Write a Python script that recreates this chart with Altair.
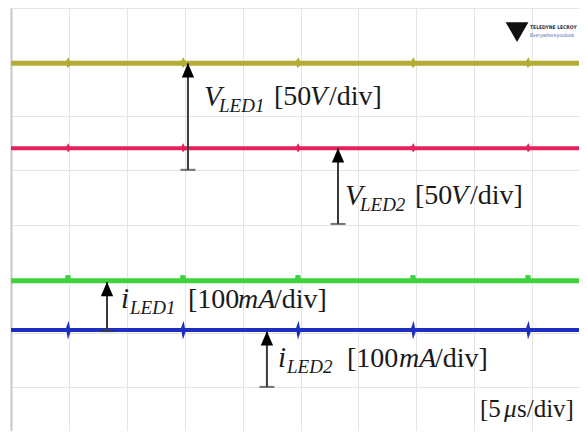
import altair as alt
import pandas as pd

# ---- data (time in µs at 5 µs/div, vertical position in screen divisions, 8 div) ----
t = [0, 4.87, 4.92, 4.97, 5.02, 14.80, 14.85, 14.90, 14.95, 24.73, 24.78, 24.83, 24.88,
     34.67, 34.72, 34.77, 34.82, 44.60, 44.65, 44.70, 44.75, 49.74]
v_led1 = [6.98, 6.98, 6.995, 6.97, 6.98, 6.98, 6.995, 6.97, 6.98, 6.98, 6.995, 6.97, 6.98,
          6.98, 6.995, 6.97, 6.98, 6.98, 6.995, 6.97, 6.98, 6.98]
v_led2 = [5.41, 5.41, 5.425, 5.40, 5.41, 5.41, 5.425, 5.40, 5.41, 5.41, 5.425, 5.40, 5.41,
          5.41, 5.425, 5.40, 5.41, 5.41, 5.425, 5.40, 5.41, 5.41]
i_led1 = [2.96, 2.96, 3.06, 2.93, 2.96, 2.96, 3.06, 2.93, 2.96, 2.96, 3.06, 2.93, 2.96,
          2.96, 3.06, 2.93, 2.96, 2.96, 3.06, 2.93, 2.96, 2.96]
i_led2 = [2.05, 2.05, 2.08, 2.02, 2.05, 2.05, 2.08, 2.02, 2.05, 2.05, 2.08, 2.02, 2.05,
          2.05, 2.08, 2.02, 2.05, 2.05, 2.08, 2.02, 2.05, 2.05]

trace_names = ["VLED1", "VLED2", "iLED1", "iLED2"]
trace_colors = ["#b3ad35", "#e2215d", "#3fd23f", "#1c2fc0"]

# arrows: time position, start (reference level) and tip (trace level)
arrow_t = [15.28, 28.24, 8.29, 22.10]
arrow_from = [5.01, 4.01, 2.03, 1.00]
arrow_to = [6.98, 5.41, 2.94, 2.03]

# label anchors (time, division) for V_LED1, V_LED2, i_LED1, i_LED2, time base
label_t = [16.67, 28.84, 9.50, 23.06, 40.50]
label_v = [6.19, 4.36, 2.46, 1.37, 0.44]

logo_t = [44.82]
logo_v = [7.61]

x_min, x_max = 0, 49.05
y_min, y_max = 0.185, 8

# ---- tables ----
traces = pd.DataFrame({
    "t": t * 4,
    "v": v_led1 + v_led2 + i_led1 + i_led2,
    "trace": sum([[n] * len(t) for n in trace_names], []),
})
arrows = pd.DataFrame({"t": arrow_t, "y0": arrow_from, "y1": arrow_to})

FONT = "Liberation Serif"
xscale = alt.Scale(domain=[x_min, x_max], nice=False, zero=False)
yscale = alt.Scale(domain=[y_min, y_max], nice=False, zero=False)

xaxis = alt.Axis(values=[0, 5, 10, 15, 20, 25, 30, 35, 40, 45], grid=True, gridColor="#e4e4e4",
                 gridWidth=1, labels=False, ticks=False, domain=False, title=None)
yaxis = alt.Axis(values=[1, 2, 3, 4, 5, 6, 7, 8], grid=True, gridColor="#e4e4e4",
                 gridWidth=1, labels=False, ticks=False, domain=True, domainColor="#c8c8c8",
                 domainWidth=2, title=None)

widths = {"VLED1": 5, "VLED2": 4, "iLED1": 5, "iLED2": 4}
lines = []
for name, col in zip(trace_names, trace_colors):
    lines.append(
        alt.Chart(traces[traces.trace == name]).mark_line(
            color=col, strokeWidth=widths[name], interpolate="linear", clip=True
        ).encode(
            x=alt.X("t:Q", scale=xscale, axis=xaxis),
            y=alt.Y("v:Q", scale=yscale, axis=yaxis),
        )
    )

shaft = alt.Chart(arrows).mark_rule(color="#3a3a3a", strokeWidth=2).encode(
    x=alt.X("t:Q", scale=xscale), y=alt.Y("y0:Q", scale=yscale), y2="y1:Q")
foot = alt.Chart(arrows).mark_tick(color="#3a3a3a", orient="horizontal", size=15, thickness=2).encode(
    x=alt.X("t:Q", scale=xscale), y=alt.Y("y0:Q", scale=yscale))
head = alt.Chart(arrows).mark_point(
    shape="M0,0L-0.43,1L0.43,1Z", size=820, filled=True, color="#000000", opacity=1, strokeWidth=0
).encode(x=alt.X("t:Q", scale=xscale), y=alt.Y("y1:Q", scale=yscale))

# label pieces: (label index, text, dx, dy, size, italic)
pieces = [
    (0, "V", 0, 0, 29, True), (0, "LED1", 15, 6, 19, True), (0, "[50", 70, -1, 28, False),
    (0, "V", 106, -1, 28, True), (0, "/div]", 125, -1, 28, False),
    (1, "V", 0, 0, 29, True), (1, "LED2", 15, 6, 19, True), (1, "[50", 70, -1, 28, False),
    (1, "V", 106, -1, 28, True), (1, "/div]", 125, -1, 28, False),
    (2, "i", 0, 0, 29, True), (2, "LED1", 9, 6, 19, True), (2, "[100", 67, 0, 28, False),
    (2, "mA", 117, 0, 28, True), (2, "/div]", 153, 0, 28, False),
    (3, "i", 0, 0, 29, True), (3, "LED2", 9, 6, 19, True), (3, "[100", 69, 0, 28, False),
    (3, "mA", 121, 0, 28, True), (3, "/div]", 157, 0, 28, False),
    (4, "[5", 0, 0, 25, False), (4, "\u03bc", 24, 0, 25, True), (4, "s/div]", 37, 0, 25, False),
]
texts = []
for idx, txt, dx, dy, size, ital in pieces:
    df = pd.DataFrame({"t": [label_t[idx]], "v": [label_v[idx]], "txt": [txt]})
    texts.append(
        alt.Chart(df).mark_text(
            font=FONT, fontSize=size, fontStyle="italic" if ital else "normal",
            align="left", baseline="alphabetic", dx=dx, dy=dy, color="#1a1a1a"
        ).encode(x=alt.X("t:Q", scale=xscale), y=alt.Y("v:Q", scale=yscale), text="txt:N")
    )

logo_df = pd.DataFrame({"t": logo_t, "v": logo_v})
logo_sym = alt.Chart(logo_df).mark_point(
    shape="triangle-down", size=520, filled=True, color="#111111", opacity=1, xOffset=-13, yOffset=3
).encode(x=alt.X("t:Q", scale=xscale), y=alt.Y("v:Q", scale=yscale))
logo_t1 = alt.Chart(logo_df.assign(txt="TELEDYNE LECROY")).mark_text(
    font="DejaVu Sans Condensed", fontSize=5, fontWeight="bold", color="#2b3550", align="left",
    baseline="middle", dx=0, dy=-2).encode(
    x=alt.X("t:Q", scale=xscale), y=alt.Y("v:Q", scale=yscale), text="txt:N")
logo_t2 = alt.Chart(logo_df.assign(txt="Everywhereyoulook")).mark_text(
    font="DejaVu Sans Condensed", fontSize=5, color="#3e5db0", align="left",
    baseline="middle", dx=0, dy=6).encode(
    x=alt.X("t:Q", scale=xscale), y=alt.Y("v:Q", scale=yscale), text="txt:N")

chart = alt.layer(*lines, shaft, foot, head, *texts, logo_sym, logo_t1, logo_t2).properties(
    width=568, height=423, autosize="none",
    padding={"left": 3, "top": 0, "right": 0, "bottom": 0},
    background="white",
).configure_view(strokeWidth=0)

chart.save("out.html", embed_options={"renderer": "svg", "actions": False})
